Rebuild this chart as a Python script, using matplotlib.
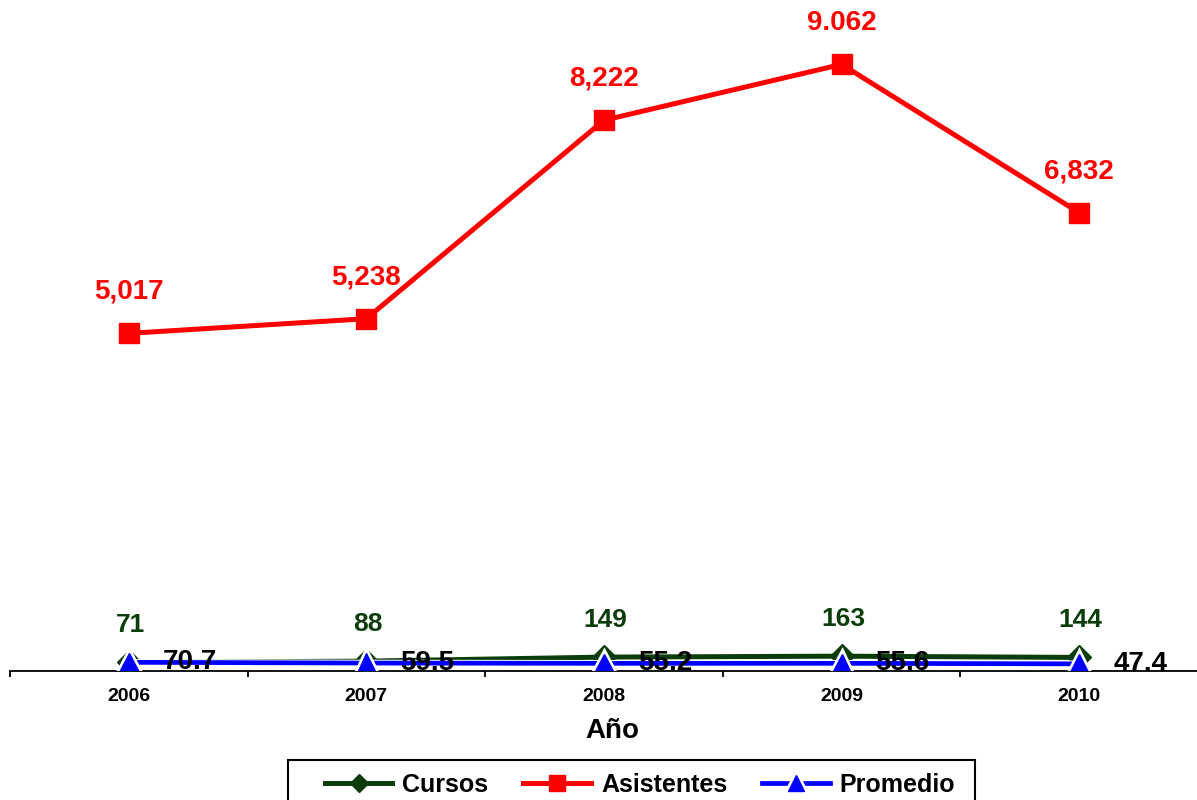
import numpy as np
import matplotlib
matplotlib.use('Agg')
from matplotlib import pyplot as plt
import matplotlib.patheffects as pe
from matplotlib.patches import Rectangle

plt.rcParams['font.family'] = ['Liberation Sans', 'DejaVu Sans']

# data
years = ['2006', '2007', '2008', '2009', '2010']
cursos = [71, 88, 149, 163, 144]
asistentes = [5017, 5238, 8222, 9062, 6832]
asistentes_labels = ['5,017', '5,238', '8,222', '9.062', '6,832']
promedio = [70.7, 59.5, 55.2, 55.6, 47.4]

green = '#0a3d0a'
red = '#ff0000'
blue = '#0000ff'

fig = plt.figure(figsize=(11.97, 8.0), dpi=100)
ax = fig.add_axes([10 / 1197, 1 - 671 / 800, 1188 / 1197, 671 / 800])

x = np.arange(len(years))

l_cursos, = ax.plot(x, cursos, color=green, lw=3.6, marker='D', ms=12,
                    label='Cursos', zorder=3)
l_asist, = ax.plot(x, asistentes, color=red, lw=3.6, marker='s', ms=15,
                   label='Asistentes', zorder=3)
l_prom, = ax.plot(x, promedio, color=blue, lw=3.4, marker='^', ms=14,
                  label='Promedio', zorder=4,
                  path_effects=[pe.Stroke(linewidth=4.8, foreground='white'), pe.Normal()])

# value labels
for xi, v, s in zip(x, asistentes, asistentes_labels):
    ax.annotate(s, (xi, v), xytext=(0, 30), textcoords='offset points',
                ha='center', va='center', color=red, fontsize=20, fontweight='bold', zorder=6)
for xi, v in zip(x, cursos):
    ax.annotate(f'{v}', (xi, v), xytext=(1, 27), textcoords='offset points',
                ha='center', va='center', color=green, fontsize=19, fontweight='bold', zorder=6)
for xi, v in zip(x, promedio):
    ax.annotate(f'{v:.1f}', (xi, v), xytext=(44, 0), textcoords='offset points',
                ha='center', va='center', color='black', fontsize=20, fontweight='bold', zorder=6)

ax.set_xlim(-0.5, len(years) - 0.5)
ax.set_ylim(-60, 10030)

for side in ['top', 'right', 'left']:
    ax.spines[side].set_visible(False)
ax.spines['bottom'].set_linewidth(1.3)
ax.set_yticks([])

# tick marks between categories, labels at the centers
ax.set_xticks(np.arange(-0.5, len(years), 1.0))
ax.set_xticklabels([])
ax.tick_params(axis='x', which='major', direction='out', length=4, width=1.3)
ax.set_xticks(x, minor=True)
ax.set_xticklabels(years, minor=True, fontsize=14, fontweight='bold')
ax.tick_params(axis='x', which='minor', length=0, pad=12)

fig.text(612 / 1197, 1 - 731 / 800, 'Año', ha='center', va='center',
         fontsize=20, fontweight='bold')

# legend box runs off the bottom edge
fig.patches.append(Rectangle((288 / 1197, -0.05), 687 / 1197, 0.05 + 40 / 800,
                             transform=fig.transFigure, facecolor='white',
                             edgecolor='black', linewidth=1.5, zorder=1))
leg = fig.legend(handles=[l_cursos, l_asist, l_prom], loc='center', ncol=3,
                 bbox_to_anchor=(640 / 1197, 1 - 785 / 800), bbox_transform=fig.transFigure,
                 borderaxespad=0, frameon=False,
                 prop={'size': 18, 'weight': 'bold'}, handlelength=2.7,
                 columnspacing=1.4, handletextpad=0.4, markerscale=0.8)

fig.savefig('out.png', dpi=100)
